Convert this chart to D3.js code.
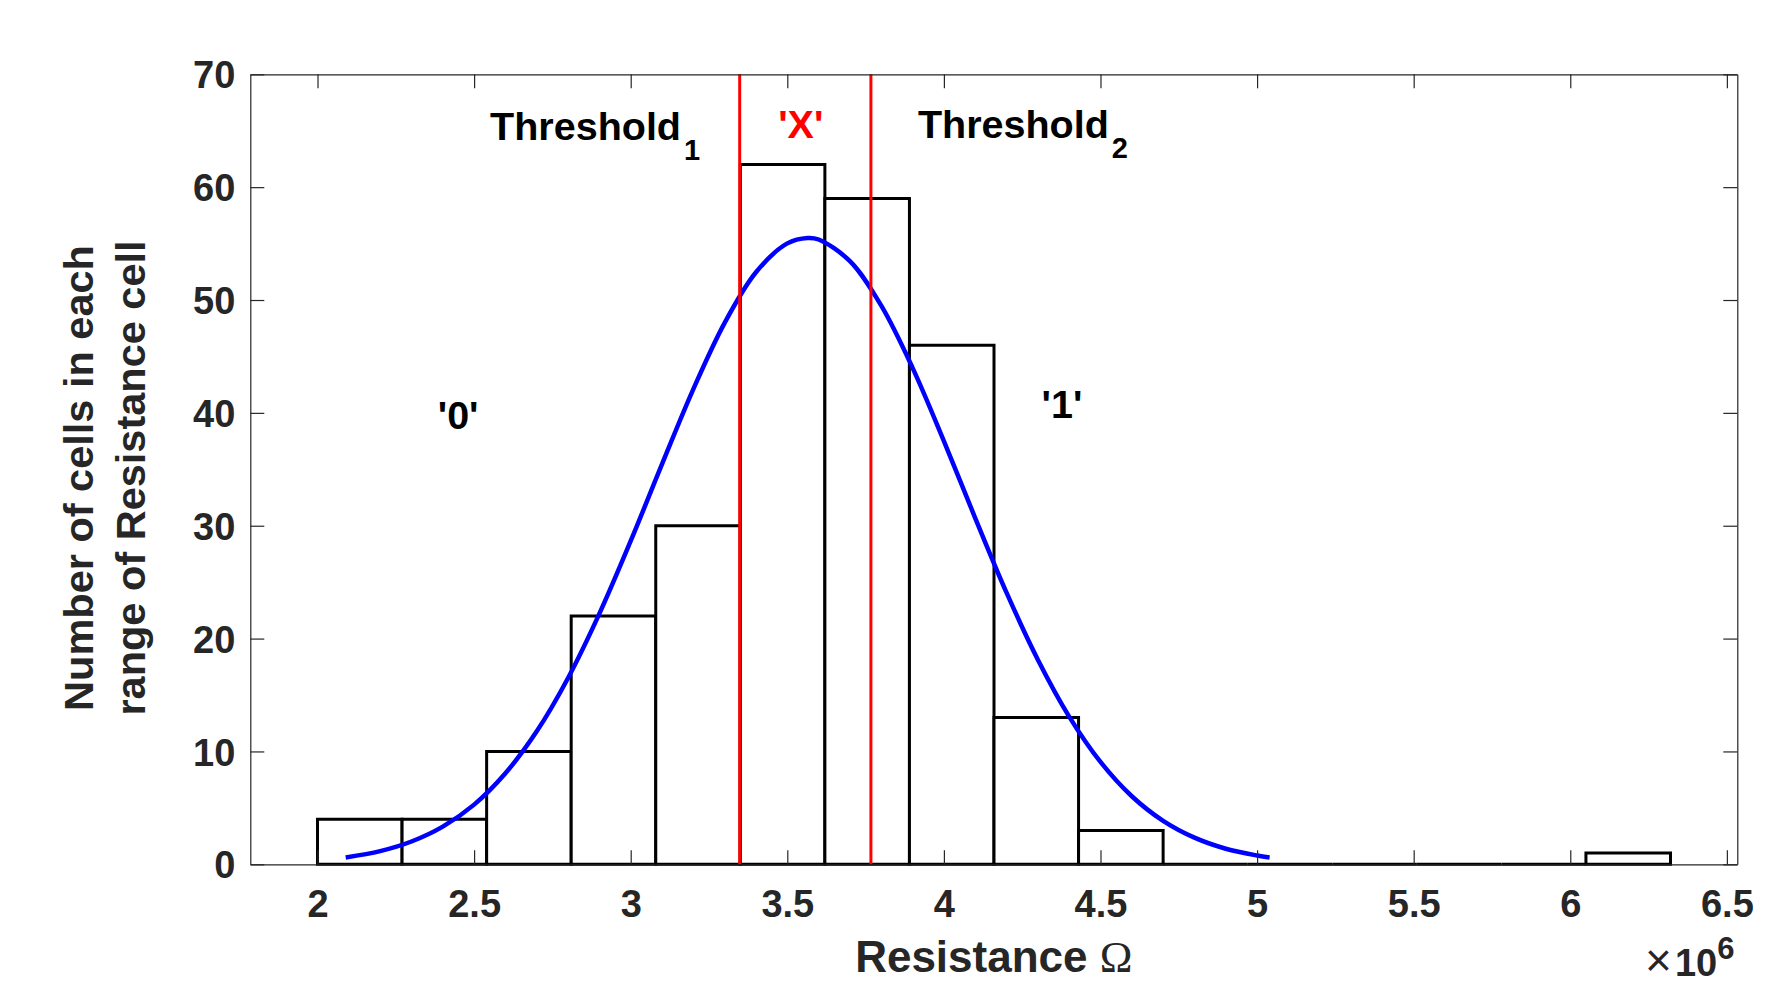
<!DOCTYPE html>
<html>
<head>
<meta charset="utf-8">
<script src="https://cdn.jsdelivr.net/npm/d3@7"></script>
<style>
  html, body { margin: 0; padding: 0; background: #fff; }
  svg { display: block; }
</style>
</head>
<body>
<svg id="chart" width="1784" height="988"></svg>
<script>
// ---------- data ----------
const binStart = 2.0;          // ×10^6 Ω
const binWidth = 0.27;         // ×10^6 Ω
const binCounts = [4, 4, 10, 22, 30, 62, 59, 46, 13, 3, 0, 0, 0, 0, 0, 1];

// fitted normal curve: [resistance (×10^6), count]
const fitX = [2.09, 2.2, 2.3, 2.4, 2.5, 2.6, 2.7, 2.8, 2.9, 3.0, 3.1, 3.2, 3.3, 3.4, 3.5, 3.565,
              3.6, 3.7, 3.8, 3.9, 4.0, 4.1, 4.2, 4.3, 4.4, 4.5, 4.6, 4.7, 4.8, 4.9, 5.0, 5.04];
const fitY = [0.61, 1.17, 2.02, 3.34, 5.29, 8.07, 11.78, 16.51, 22.21, 28.65, 35.46, 42.11, 47.98, 52.46, 55.02, 55.5,
              55.36, 53.44, 49.50, 43.99, 37.50, 30.68, 24.07, 18.13, 13.09, 9.07, 6.03, 3.85, 2.36, 1.38, 0.78, 0.61];

const thresholds = [3.348, 3.767];

const xTicks = [2, 2.5, 3, 3.5, 4, 4.5, 5, 5.5, 6, 6.5];
const yTicks = [0, 10, 20, 30, 40, 50, 60, 70];

const annotations = [
  { text: "Threshold", sub: "1", x: 2.551, y: 64.2, anchor: "start", color: "#000" },
  { text: "'X'", sub: null, x: 3.543, y: 64.33, anchor: "middle", color: "#ff0000" },
  { text: "Threshold", sub: "2", x: 3.917, y: 64.33, anchor: "start", color: "#000" },
  { text: "'0'", sub: null, x: 2.449, y: 38.57, anchor: "middle", color: "#000" },
  { text: "'1'", sub: null, x: 4.377, y: 39.55, anchor: "middle", color: "#000" }
];

// ---------- layout ----------
const L = 250.3, R = 1737.3, T = 74.3, B = 864.3;
const FONT = "'Liberation Sans', Arial, Helvetica, sans-serif";
const AX = "#262626";

const svg = d3.select("#chart");
svg.append("rect").attr("width", 1784).attr("height", 988).attr("fill", "#fff");

const x = d3.scaleLinear().domain([1.7854, 6.5333]).range([L, R]);
const y = d3.scaleLinear().domain([0, 70]).range([B, T]);

// ---------- bars ----------
const bins = binCounts.map((c, i) => ({ x0: binStart + i * binWidth, x1: binStart + (i + 1) * binWidth, c }));
svg.append("g").selectAll("path").data(bins).join("path")
  .attr("d", d => `M${x(d.x0)},${y(0)}V${y(d.c)}H${x(d.x1)}V${y(0)}Z`)
  .attr("fill", "#fff")
  .attr("stroke", "#000")
  .attr("stroke-width", 3)
  .attr("stroke-linejoin", "miter");

// ---------- fitted curve ----------
const pts = fitX.map((v, i) => [v, fitY[i]]);
svg.append("path")
  .datum(pts)
  .attr("d", d3.line().x(d => x(d[0])).y(d => y(d[1])).curve(d3.curveCatmullRom))
  .attr("fill", "none")
  .attr("stroke", "#0000ff")
  .attr("stroke-width", 4.5);

// ---------- threshold lines ----------
svg.append("g").selectAll("line").data(thresholds).join("line")
  .attr("x1", d => x(d)).attr("x2", d => x(d))
  .attr("y1", y(70)).attr("y2", y(0))
  .attr("stroke", "#ff0000")
  .attr("stroke-width", 3);

// ---------- axes ----------
function styleAxis(g) {
  g.select(".domain").attr("stroke", AX).attr("stroke-width", 1.2);
  g.selectAll(".tick line").attr("stroke", AX).attr("stroke-width", 1.2);
  g.selectAll("text").attr("fill", AX).attr("font-family", FONT)
    .attr("font-weight", "bold").attr("font-size", 38);
}

const xAxis = svg.append("g").attr("transform", `translate(0,${B})`)
  .call(d3.axisBottom(x).tickValues(xTicks).tickFormat(d => String(d)).tickSizeInner(-14).tickSizeOuter(0));
styleAxis(xAxis);
xAxis.selectAll("text").attr("y", 53).attr("dy", 0);

const xTop = svg.append("g").attr("transform", `translate(0,${T})`)
  .call(d3.axisTop(x).tickValues(xTicks).tickFormat("").tickSizeInner(-14).tickSizeOuter(0));
styleAxis(xTop);

const yAxis = svg.append("g").attr("transform", `translate(${L},0)`)
  .call(d3.axisLeft(y).tickValues(yTicks).tickFormat(d => String(d)).tickSizeInner(-14).tickSizeOuter(0));
styleAxis(yAxis);
yAxis.selectAll("text").attr("x", -15).attr("dy", "0.36em");

const yRight = svg.append("g").attr("transform", `translate(${R},0)`)
  .call(d3.axisRight(y).tickValues(yTicks).tickFormat("").tickSizeInner(-14).tickSizeOuter(0));
styleAxis(yRight);

// ---------- axis labels ----------
const xl = svg.append("text")
  .attr("x", (L + R) / 2).attr("y", 972)
  .attr("text-anchor", "middle")
  .attr("fill", AX).attr("font-family", FONT).attr("font-weight", "bold").attr("font-size", 44);
xl.append("tspan").text("Resistance ");
xl.append("tspan").attr("font-family", "'Liberation Serif', 'Times New Roman', serif")
  .attr("font-weight", "normal").text("Ω");

const yLines = ["Number of cells in each", "range of Resistance cell"];
const yLineX = [93, 145];
yLines.forEach((t, i) => {
  svg.append("text")
    .attr("transform", `translate(${yLineX[i]},478) rotate(-90)`)
    .attr("text-anchor", "middle")
    .attr("fill", AX).attr("font-family", FONT).attr("font-weight", "bold").attr("font-size", 41.5)
    .text(t);
});

// exponent
const ex = svg.append("text").attr("x", 1645).attr("y", 976)
  .attr("fill", AX).attr("font-family", FONT).attr("font-size", 38);
ex.append("tspan").attr("font-weight", "normal").attr("font-size", 46).text("×");
ex.append("tspan").attr("font-weight", "bold").attr("dx", 3).text("10");
ex.append("tspan").attr("font-weight", "bold").attr("font-size", 31).attr("dy", -17).text("6");

// ---------- annotations ----------
annotations.forEach(a => {
  const t = svg.append("text")
    .attr("x", x(a.x)).attr("y", y(a.y))
    .attr("text-anchor", a.anchor)
    .attr("fill", a.color).attr("font-family", FONT).attr("font-weight", "bold").attr("font-size", 39.5);
  t.append("tspan").text(a.text);
  if (a.sub) {
    t.append("tspan").attr("font-size", 29).attr("dx", 3).attr("dy", 20).text(a.sub);
  }
});
</script>
</body>
</html>
